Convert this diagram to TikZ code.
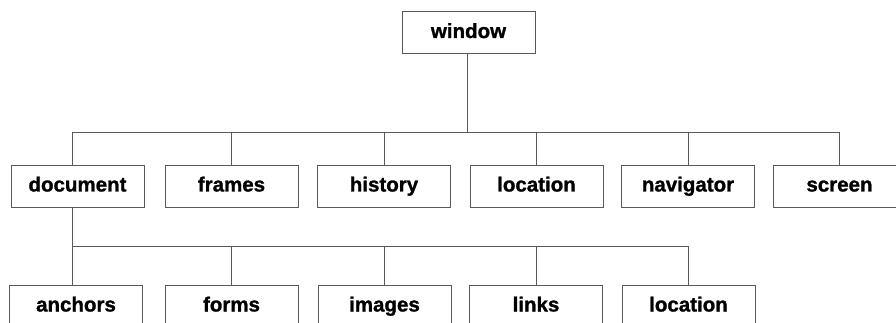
\documentclass[tikz,border=0pt]{standalone}
\usepackage{fontspec}
\newfontfamily\heavyfont[FakeBold=1.2]{Liberation Sans Bold}
\tikzset{
  box/.style = {draw=black!65, line width=0.9pt, fill=white, minimum width=133pt,
    minimum height=42pt, inner sep=0pt, text height=15pt, text depth=4pt,
    font=\fontsize{20.5}{24}\heavyfont},
  wire/.style = {draw=black!65, line width=0.9pt}
}
\begin{document}
\begin{tikzpicture}[x=1pt, y=-1pt]
  \useasboundingbox (0,0) rectangle (896,323);
  \clip (0,0) rectangle (896,323);
  % top
  \node[box] (win) at (468.5, 32.5) {window};
  % second row
  \node[box] (doc) at (77.5, 186) {document} % left
  node[box] (frm) at (231.5, 186) {frames}
  node[box] (his) at (384, 186) {history}
  node[box] (loc) at (536.5, 186) {location}
  node[box] (nav) at (688, 186) {navigator}
  node[box] (scr) at (839.5, 186) {screen}; % right, cut off
  % third row
  \node[box] (anc) at (76, 306) {anchors} % left
  node[box] (frs) at (231.5, 306) {forms}
  node[box] (img) at (384.5, 306) {images}
  node[box] (lnk) at (536, 306) {links}
  node[box] (loc2) at (688.5, 306) {location}; % right
  % buses
  \coordinate (bus1) at (467, 132);
  \coordinate (bus2) at (72, 246);
  \coordinate (doctop) at ([xshift=-5.5pt]doc.north);
  \coordinate (docbot) at ([xshift=-5.5pt]doc.south);
  \coordinate (anctop) at ([xshift=-4pt]anc.north);
  \draw[wire] (win.south) -- (win.south -| bus1) -- (bus1);
  \draw[wire] (doctop) -- (doctop |- bus1) -| (scr.north);
  \foreach \n in {frm, his, loc, nav}
    \draw[wire] (\n.north) -- (\n.north |- bus1);
  \draw[wire] (docbot) -- (bus2) -| (loc2.north);
  \draw[wire] (bus2) -- (anctop);
  \foreach \n in {frs, img, lnk}
    \draw[wire] (\n.north) -- (\n.north |- bus2);
\end{tikzpicture}
\end{document}
